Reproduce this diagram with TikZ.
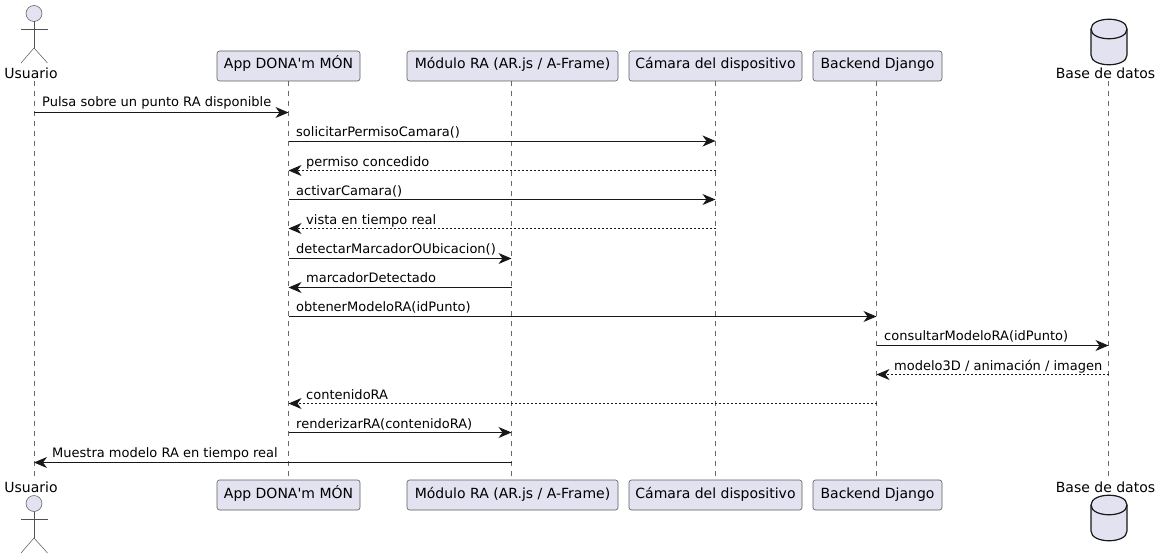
\documentclass[tikz,border=0pt]{standalone}
\usepackage{fontspec}
\setmainfont{DejaVu Sans}
\usetikzlibrary{arrows.meta}
\definecolor{partfill}{HTML}{E2E2F0}
\definecolor{partline}{HTML}{181818}
\tikzset{
	part/.style={draw=partline!70, fill=partfill, rounded corners=2.5pt, line width=.6pt, minimum height=30pt, inner sep=0pt, text height=9pt, text depth=3pt, font=\fontsize{14}{16}\selectfont},
	partlabel/.style={inner sep=0pt, text height=10.5pt, text depth=3pt, font=\fontsize{14}{16}\selectfont},
	life/.style={draw=partline!65, line width=.5pt, dash pattern=on 5pt off 5pt},
	msg/.style={draw=partline, line width=1pt, -{Stealth[length=13pt, width=11pt, inset=4pt]}},
	reply/.style={msg, dash pattern=on 2pt off 2pt},
	msgtext/.style={inner sep=0pt, anchor=base west, font=\fontsize{13}{15}\selectfont},
	figure/.style={draw=partline!75, line width=.5pt},
	drum/.style={draw=partline, fill=partfill, line width=1.2pt}
}
\newcommand{\stickman}[1]{% head centre at y = #1
	\draw[figure, fill=partfill] (34, #1) circle (8);
	\draw[figure] (34, #1+8) -- (34, #1+34.5);
	\draw[figure] (21, #1+15.5) -- (47.5, #1+15.5);
	\draw[figure] (21, #1+49.5) -- (34, #1+34.5) -- (47.5, #1+49.5);
}
\newcommand{\dbdrum}[1]{% top of the drum at y = #1
	\draw[drum] (1091, #1+10) .. controls (1091, #1-3) and (1127, #1-3) .. (1127, #1+10)
		-- (1127, #1+36) .. controls (1127, #1+49) and (1091, #1+49) .. (1091, #1+36) -- cycle;
	\draw[drum, fill=none] (1091, #1+10) .. controls (1091, #1+23) and (1127, #1+23) .. (1127, #1+10);
}
\begin{document}
\begin{tikzpicture}[x=1pt, y=-1pt]
	\useasboundingbox (0, 0) rectangle (1161, 559);
	% lifelines first, the heads go on top
	\coordinate (usuario) at (34, 81);
	\coordinate (usuarioB) at (34, 478);
	\coordinate (app) at (288.5, 81);
	\coordinate (appB) at (288.5, 480);
	\coordinate (modulo) at (511.5, 81);
	\coordinate (moduloB) at (511.5, 480);
	\coordinate (camara) at (715.5, 81);
	\coordinate (camaraB) at (715.5, 480);
	\coordinate (backend) at (876.5, 81);
	\coordinate (backendB) at (876.5, 480);
	\coordinate (base) at (1108.5, 81);
	\coordinate (baseB) at (1108.5, 478);
	\draw[life] (usuario) -- (usuarioB);
	\draw[life] (app) -- (appB);
	\draw[life] (modulo) -- (moduloB);
	\draw[life] (camara) -- (camaraB);
	\draw[life] (backend) -- (backendB);
	\draw[life] (base) -- (baseB);
	% top row
	\stickman{13.5}
	\node[partlabel] (usuarioTop) at (31, 75) {Usuario};
	\node[part, minimum width=143pt] (appTop) at (288.5, 66) {App DONA\textquotesingle m MÓN};
	\node[part, minimum width=211pt] (moduloTop) at (512.5, 66) {Módulo RA (AR.js / A-Frame)};
	\node[part, minimum width=173pt] (camaraTop) at (715.5, 66) {Cámara del dispositivo};
	\node[part, minimum width=129pt] (backendTop) at (877.5, 66) {Backend Django};
	\dbdrum{19}
	\node[partlabel] (baseTop) at (1105.5, 75) {Base de datos};
	% bottom row
	\node[partlabel] (usuarioBot) at (31, 489) {Usuario};
	\stickman{503.5}
	\node[part, minimum width=143pt] (appBot) at (288.5, 495) {App DONA\textquotesingle m MÓN};
	\node[part, minimum width=211pt] (moduloBot) at (512.5, 495) {Módulo RA (AR.js / A-Frame)};
	\node[part, minimum width=173pt] (camaraBot) at (715.5, 495) {Cámara del dispositivo};
	\node[part, minimum width=129pt] (backendBot) at (877.5, 495) {Backend Django};
	\node[partlabel] (baseBot) at (1105.5, 489) {Base de datos};
	\dbdrum{495}
	% messages
	\draw[msg] (usuario |- 0, 112.5) -- (app |- 0, 112.5);
	\node[msgtext] (m1) at (42, 107) {Pulsa sobre un punto RA disponible};
	\draw[msg] (app |- 0, 141) -- (camara |- 0, 141);
	\node[msgtext] (m2) at (296, 136) {solicitarPermisoCamara()};
	\draw[reply] (camara |- 0, 170.5) -- (app |- 0, 170.5);
	\node[msgtext] (m3) at (306, 166) {permiso concedido};
	\draw[msg] (app |- 0, 199.5) -- (camara |- 0, 199.5);
	\node[msgtext] (m4) at (296, 195) {activarCamara()};
	\draw[reply] (camara |- 0, 228.5) -- (app |- 0, 228.5);
	\node[msgtext] (m5) at (306, 224) {vista en tiempo real};
	\draw[msg] (app |- 0, 258.5) -- (modulo |- 0, 258.5);
	\node[msgtext] (m6) at (296, 253) {detectarMarcadorOUbicacion()};
	\draw[msg] (modulo |- 0, 287.5) -- (app |- 0, 287.5);
	\node[msgtext] (m7) at (306, 282) {marcadorDetectado};
	\draw[msg] (app |- 0, 316.5) -- (backend |- 0, 316.5);
	\node[msgtext] (m8) at (296, 311) {obtenerModeloRA(idPunto)};
	\draw[msg] (backend |- 0, 345.5) -- (base |- 0, 345.5);
	\node[msgtext] (m9) at (884, 340) {consultarModeloRA(idPunto)};
	\draw[reply] (base |- 0, 374.5) -- (backend |- 0, 374.5);
	\node[msgtext] (m10) at (894, 370) {modelo3D / animación / imagen};
	\draw[reply] (backend |- 0, 403.5) -- (app |- 0, 403.5);
	\node[msgtext] (m11) at (306, 399) {contenidoRA};
	\draw[msg] (app |- 0, 432.5) -- (modulo |- 0, 432.5);
	\node[msgtext] (m12) at (296, 428) {renderizarRA(contenidoRA)};
	\draw[msg] (modulo |- 0, 462.5) -- (usuario |- 0, 462.5);
	\node[msgtext] (m13) at (52, 457) {Muestra modelo RA en tiempo real};
\end{tikzpicture}
\end{document}
